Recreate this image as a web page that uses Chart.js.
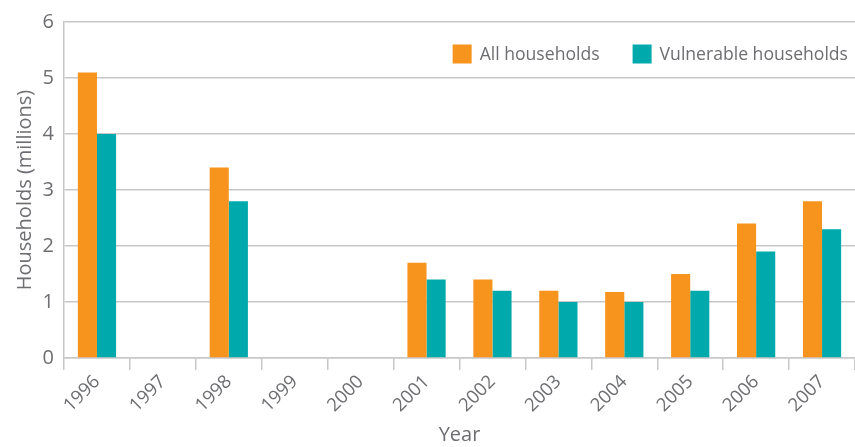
<!DOCTYPE html>
<html>
<head>
<meta charset="utf-8">
<script src="https://cdn.jsdelivr.net/npm/chart.js@4.4.1/dist/chart.umd.min.js"></script>
<style>
  html, body { margin: 0; padding: 0; background: #fff; }
  #wrap { width: 855px; height: 447px; }
</style>
</head>
<body>
<div id="wrap"><canvas id="households"></canvas></div>
<script>
// years on the x axis, blanks where no survey was run
const years = ["1996", "1997", "1998", "1999", "2000", "2001", "2002", "2003", "2004", "2005", "2006", "2007"];
const allHouseholds = [5.1, null, 3.4, null, null, 1.7, 1.4, 1.2, 1.18, 1.5, 2.4, 2.8];
const vulnerableHouseholds = [4.0, null, 2.8, null, null, 1.4, 1.2, 1.0, 1.0, 1.2, 1.9, 2.3];
const yTicks = [0, 1, 2, 3, 4, 5, 6];

const textGrey = "#6d6e71";
const gridGrey = "#c8c8c8";
const fontFamily = "'Open Sans', 'Noto Sans', sans-serif";
Chart.defaults.font.family = fontFamily;
Chart.defaults.color = textGrey;

// legend sits inside the plot, top right, so draw it by hand
const innerLegend = {
  id: "innerLegend",
  afterDraw(chart) {
    const c = chart.ctx;
    const area = chart.chartArea;
    const box = 19, gap = 8, spacing = 33;
    c.save();
    c.font = "17.6px " + fontFamily;
    c.textBaseline = "middle";
    const items = chart.data.datasets.map(ds => ({
      text: ds.label, color: ds.backgroundColor, w: box + gap + c.measureText(ds.label).width
    }));
    const total = items.reduce((s, it) => s + it.w, 0) + spacing * (items.length - 1);
    let x = area.right - 7 - total;
    const y = area.top + 32;
    items.forEach(it => {
      c.fillStyle = it.color;
      c.fillRect(x, y - box / 2, box, box);
      c.fillStyle = textGrey;
      c.fillText(it.text, x + box + gap, y + 1);
      x += it.w + spacing;
    });
    c.restore();
  }
};

const ctx = document.getElementById("households");

const householdChart = new Chart(ctx, {
  type: "bar",
  data: {
    labels: years,
    datasets: [
      {
        label: "All households",
        data: allHouseholds,
        backgroundColor: "#f7941d"
      },
      {
        label: "Vulnerable households",
        data: vulnerableHouseholds,
        backgroundColor: "#00a9ac"
      }
    ]
  },
  plugins: [innerLegend],
  options: {
    responsive: true,
    maintainAspectRatio: false,
    animation: false,
    datasets: { bar: { categoryPercentage: 0.58, barPercentage: 1 } },
    layout: { padding: { top: 1, right: 0, left: 13, bottom: 0 } },
    plugins: {
      tooltip: { enabled: false },
      legend: { display: false }
    },
    scales: {
      x: {
        grid: {
          offset: true,
          drawOnChartArea: false,
          drawTicks: true,
          tickLength: 12,
          color: gridGrey,
          lineWidth: 1.5
        },
        border: { color: gridGrey, width: 1.5 },
        ticks: {
          maxRotation: 45,
          minRotation: 45,
          padding: 1,
          font: { size: 18.5 }
        },
        title: {
          display: true,
          text: "Year",
          font: { size: 20 },
          padding: { top: 0, bottom: 0 }
        },
        afterFit: axis => { axis.height = 89; }
      },
      y: {
        min: 0,
        max: 6,
        afterBuildTicks: axis => {
          axis.ticks = yTicks.map(v => ({ value: v }));
        },
        grid: {
          drawTicks: false,
          color: gridGrey,
          lineWidth: 1.5
        },
        border: { color: gridGrey, width: 1.5 },
        ticks: {
          padding: 10,
          font: { size: 20 }
        },
        title: {
          display: true,
          text: "Households (millions)",
          font: { size: 20 },
          padding: { top: 0, bottom: 0 }
        },
        afterFit: axis => { axis.width = 51; }
      }
    }
  }
});
</script>
</body>
</html>
